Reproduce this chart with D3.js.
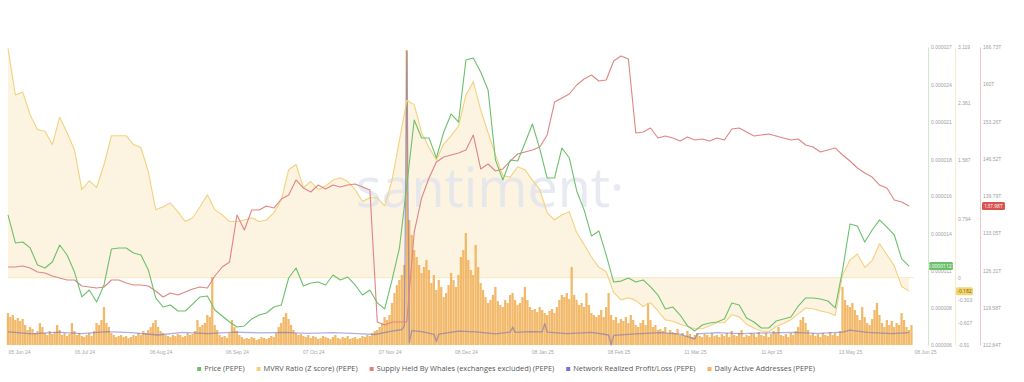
<!DOCTYPE html>
<html>
<head>
<meta charset="utf-8">
<script src="https://cdn.jsdelivr.net/npm/d3@7"></script>
<style>
  body { margin: 0; background: #fff; }
  svg { display: block; font-family: 'Open Sans', sans-serif; }
</style>
</head>
<body>
<div id="chart"></div>
<script>
// PEPE metrics (Santiment), Jun 2024 - Jun 2025

// line series are sampled every 3 days from 05 Jun 24
const priceE6 = [
    14.94, 12.93, 13.00, 12.57, 11.35, 11.13, 11.56, 12.78, 12.06, 10.84,
    9.05, 9.55, 8.69, 9.91, 12.49, 12.57, 12.57, 12.21, 12.06, 10.99,
    8.98, 8.33, 8.47, 8.04, 8.04, 8.54, 9.05, 9.12, 8.11, 7.68,
    7.25, 6.89, 6.97, 7.47, 7.75, 7.90, 8.33, 8.47, 10.41, 11.13,
    9.84, 10.05, 10.12, 9.91, 10.63, 10.27, 10.48, 9.91, 9.19, 9.55,
    8.62, 8.19, 10.27, 12.57, 17.09, 21.76, 20.47, 20.47, 19.03, 20.90,
    22.19, 21.61, 26.07, 26.21, 25.20, 23.91, 18.89, 17.45, 18.89, 18.81,
    20.11, 21.47, 19.68, 17.59, 17.59, 19.75, 19.03, 16.66, 15.30, 13.43,
    13.79, 12.06, 10.12, 10.19, 10.41, 10.12, 10.27, 9.77, 9.19, 8.19,
    8.33, 7.75, 6.97, 6.61, 7.04, 7.18, 7.25, 7.47, 8.62, 8.47,
    7.54, 7.25, 6.82, 6.82, 7.32, 7.47, 7.61, 8.40, 8.98, 8.98,
    8.90, 8.76, 8.26, 10.99, 14.29, 14.15, 13.00, 13.86, 14.58, 14.07,
    13.50, 11.78, 11.27
];

const mvrv = [
    3.10, 2.47, 2.51, 2.20, 2.00, 1.98, 1.80, 2.17, 1.96, 1.73,
    1.19, 1.31, 1.22, 1.53, 1.92, 1.92, 1.92, 1.80, 1.76, 1.43,
    0.92, 0.96, 1.01, 0.89, 0.76, 0.81, 0.96, 1.12, 0.92, 0.85,
    0.76, 0.76, 0.78, 0.81, 0.76, 0.78, 0.88, 1.05, 1.46, 1.53,
    1.22, 1.30, 1.19, 1.24, 1.32, 1.35, 1.30, 1.19, 1.03, 1.08,
    1.08, 0.97, 1.32, 1.86, 2.40, 2.34, 1.96, 1.76, 1.59, 1.81,
    1.92, 2.05, 2.47, 2.65, 2.27, 1.96, 1.66, 1.38, 1.36, 1.50,
    1.46, 1.32, 1.19, 0.88, 0.78, 0.85, 0.89, 0.61, 0.45, 0.28,
    0.14, 0.08, -0.20, -0.30, -0.27, -0.31, -0.39, -0.34, -0.45, -0.57,
    -0.59, -0.63, -0.66, -0.69, -0.69, -0.65, -0.61, -0.61, -0.50, -0.53,
    -0.63, -0.68, -0.72, -0.73, -0.66, -0.62, -0.57, -0.49, -0.41, -0.42,
    -0.45, -0.47, -0.51, 0.04, 0.24, 0.32, 0.14, 0.23, 0.46, 0.31,
    0.16, -0.12, -0.182
];

// supply held by whales, trillions of PEPE
const whales = [
    126.95, 126.95, 127.13, 126.76, 126.04, 125.86, 125.32, 124.96, 124.59, 124.59,
    123.51, 123.33, 123.15, 123.33, 124.59, 124.59, 124.05, 123.69, 123.69, 123.51,
    122.61, 121.52, 122.24, 121.88, 122.42, 122.97, 123.33, 123.15, 125.32, 126.95,
    127.85, 136.35, 133.64, 137.25, 137.25, 137.98, 137.61, 139.24, 139.97, 142.68,
    141.23, 140.51, 141.77, 141.05, 141.77, 141.41, 141.77, 141.95, 141.41, 140.87,
    117.00, 116.46, 117.00, 117.00, 117.00, 133.27, 139.42, 143.04, 145.93, 146.84,
    147.20, 147.56, 148.10, 150.82, 144.67, 145.57, 144.31, 144.67, 146.11, 147.38,
    147.74, 148.10, 148.65, 150.82, 156.78, 157.51, 158.23, 159.86, 160.94, 161.67,
    160.58, 160.76, 164.20, 165.10, 164.56, 151.18, 151.36, 152.08, 150.27, 150.64,
    150.27, 149.73, 150.45, 149.91, 150.09, 149.73, 150.27, 149.91, 151.90, 152.08,
    151.36, 150.64, 150.82, 151.00, 150.64, 150.27, 149.91, 150.09, 149.01, 148.65,
    147.74, 148.10, 148.47, 147.20, 146.11, 144.85, 143.94, 143.22, 141.77, 141.23,
    139.06, 138.70, 137.98
];

// network realized profit/loss, millions USD
const nrplDates = [
    '2024-06-05', '2024-06-15', '2024-06-25', '2024-07-05', '2024-07-15', '2024-07-25',
    '2024-08-05', '2024-08-15', '2024-08-25', '2024-09-05', '2024-09-15', '2024-09-25',
    '2024-10-05', '2024-10-15', '2024-10-25', '2024-11-01', '2024-11-08', '2024-11-12',
    '2024-11-13', '2024-11-14', '2024-11-15', '2024-11-16', '2024-11-20', '2024-11-25',
    '2024-11-26', '2024-11-27', '2024-12-05', '2024-12-12', '2024-12-20', '2024-12-26',
    '2024-12-27', '2024-12-28', '2025-01-03', '2025-01-08', '2025-01-09', '2025-01-10',
    '2025-01-18', '2025-01-28', '2025-02-04', '2025-02-05', '2025-02-06', '2025-02-15',
    '2025-02-25', '2025-03-05', '2025-03-11', '2025-03-12', '2025-03-20', '2025-03-30',
    '2025-04-10', '2025-04-20', '2025-04-30', '2025-05-10', '2025-05-13', '2025-05-20',
    '2025-05-30', '2025-06-06'
];
const nrpl = [
    5, -3, 4, -2, 6, 2,
    -8, 3, -2, 4, 1, 3,
    -1, 2, -2, -6, 8, 15,
    30, 1180, -40, 10, 6, -5,
    -35, -4, 8, 5, -3, 4,
    25, 3, 6, 5, 40, 4,
    -2, 3, -8, -50, -10, -3,
    2, -4, -25, -3, 2, -2,
    1, 3, -1, 4, 12, 3,
    -2, 2
];

// daily active addresses, thousands, one value per day from 05 Jun 24
const daa = [
    32, 28, 30, 25, 27, 24, 26, 20, 15, 18,
    16, 12, 14, 22, 18, 12, 10, 14, 11, 13,
    20, 15, 10, 12, 9, 11, 22, 14, 10, 12,
    9, 8, 10, 12, 9, 14, 22, 20, 25, 38,
    22, 18, 12, 10, 8, 9, 10, 8, 9, 7,
    8, 10, 9, 12, 10, 14, 12, 15, 18, 22,
    25, 18, 14, 12, 10, 9, 8, 10, 9, 11,
    10, 8, 9, 12, 10, 11, 14, 25, 18, 20,
    22, 30, 28, 68, 20, 15, 10, 8, 9, 7,
    12, 25, 18, 14, 10, 8, 6, 7, 6, 8,
    7, 5, 6, 8, 7, 6, 7, 9, 8, 12,
    18, 22, 28, 32, 26, 20, 15, 12, 10, 11,
    9, 8, 10, 7, 9, 8, 6, 7, 9, 8,
    7, 6, 8, 10, 7, 6, 8, 7, 9, 6,
    7, 8, 6, 7, 9, 8, 10, 9, 12, 14,
    15, 18, 22, 28, 25, 30, 42, 52, 60, 65,
    70, 80, 295, 125, 110, 95, 88, 80, 72, 78,
    85, 75, 62, 70, 55, 65, 58, 48, 52, 60,
    72, 65, 58, 70, 88, 95, 112, 85, 75, 70,
    100, 78, 62, 55, 48, 42, 45, 50, 58, 44,
    40, 38, 45, 42, 50, 52, 45, 40, 42, 48,
    58, 45, 38, 35, 36, 33, 38, 35, 32, 30,
    34, 36, 32, 38, 45, 50, 48, 52, 46, 78,
    50, 45, 40, 42, 38, 52, 40, 32, 30, 28,
    30, 35, 28, 38, 52, 30, 25, 28, 22, 26,
    24, 28, 22, 30, 25, 20, 18, 22, 25, 20,
    42, 25, 18, 20, 15, 16, 14, 18, 12, 15,
    13, 12, 16, 10, 12, 9, 14, 11, 8, 10,
    12, 9, 8, 11, 10, 8, 12, 9, 10, 8,
    11, 9, 12, 8, 14, 10, 9, 12, 15, 8,
    10, 9, 12, 11, 8, 13, 10, 9, 12, 8,
    11, 14, 12, 18, 10, 9, 11, 8, 12, 10,
    14, 18, 25, 28, 22, 15, 10, 12, 9, 11,
    8, 12, 10, 9, 13, 10, 12, 9, 14, 58,
    45, 40, 38, 42, 35, 30, 25, 38, 28, 22,
    20, 26, 35, 42, 30, 22, 18, 25, 20, 24,
    18, 22, 20, 32, 25, 18, 15, 20
];

const xTickDates = ['2024-06-05', '2024-07-06', '2024-08-06', '2024-09-06', '2024-10-07', '2024-11-07',
    '2024-12-08', '2025-01-08', '2025-02-08', '2025-03-11', '2025-04-11', '2025-05-13', '2025-06-08'];
const priceTicks = [27, 24.3, 21.6, 18.9, 16.3, 13.6, 10.9, 8.3, 5.6];
const priceTickLabels = ['0.000027', '0.000024', '0.000021', '0.000018', '0.000016', '0.000014', '0.000011', '0.000008', '0.000006'];
const mvrvTicks = [3.119, 2.361, 1.587, 0.794, 0, -0.303, -0.607, -0.91];
const whaleTicks = [166.73, 160, 153.26, 146.52, 139.79, 133.05, 126.31, 119.58, 112.84];

const legendItems = [
    { name: 'Price (PEPE)', color: '#6cc06c' },
    { name: 'MVRV Ratio (Z score) (PEPE)', color: '#f2d27e' },
    { name: 'Supply Held By Whales (exchanges excluded) (PEPE)', color: '#df7f7f' },
    { name: 'Network Realized Profit/Loss (PEPE)', color: '#6f74d6' },
    { name: 'Daily Active Addresses (PEPE)', color: '#f2b35e' }
];

const width = 1024;
const height = 382;
const plotTop = 47, plotBottom = 345, plotLeft = 8, plotRight = 914;

const parse = d3.timeParse('%Y-%m-%d');
const start = parse('2024-06-05');
const lineDates = priceE6.map((d, i) => d3.timeDay.offset(start, i * 3));
const dayDates = daa.map((d, i) => d3.timeDay.offset(start, i));

const x = d3.scaleTime().domain([start, parse('2025-06-08')]).range([plotLeft, plotRight]);
const yPrice = d3.scaleLinear().domain([5.6, 27]).range([plotBottom, plotTop]);
const yMvrv = d3.scaleLinear().domain([-0.91, 3.119]).range([plotBottom, plotTop]);
const yWhale = d3.scaleLinear().domain([112.84, 166.73]).range([plotBottom, plotTop]);
const yNrpl = d3.scaleLinear().domain([-50, 1200]).range([plotBottom, plotTop]);
const yDaa = d3.scaleLinear().domain([0, 298]).range([plotBottom, plotTop]);

const svg = d3.select('#chart')
    .append('svg')
    .attr('width', width)
    .attr('height', height);

// MVRV area against zero
svg.append('path')
    .datum(mvrv)
    .attr('d', d3.area()
        .x((d, i) => x(lineDates[i]))
        .y0(yMvrv(0))
        .y1(d => yMvrv(d)))
    .style('fill', '#fdf2de')
    .style('opacity', 0.9);

svg.append('line')
    .attr('x1', plotLeft).attr('x2', plotRight)
    .attr('y1', yMvrv(0)).attr('y2', yMvrv(0))
    .style('stroke', '#f3e2b6')
    .style('stroke-width', 0.8);

// watermark
svg.append('text')
    .attr('x', 490)
    .attr('y', 207)
    .attr('text-anchor', 'middle')
    .text('santiment·')
    .style('font-size', '54px')
    .style('fill', '#dfe3ee')
    .style('opacity', 0.75);

// daily active addresses bars
const barW = x(dayDates[1]) - x(dayDates[0]);
svg.selectAll('.daa')
    .data(daa)
    .enter()
    .append('rect')
    .attr('class', 'daa')
    .attr('x', (d, i) => x(dayDates[i]) - barW / 2)
    .attr('width', barW * 0.92)
    .attr('y', d => yDaa(d))
    .attr('height', d => yDaa(0) - yDaa(d))
    .style('fill', '#f1b15a')
    .style('opacity', 0.9);

function drawLine(values, dates, y, color, w, op) {
    svg.append('path')
        .datum(values)
        .attr('d', d3.line()
            .x((d, i) => x(dates[i]))
            .y(d => y(d)))
        .style('fill', 'none')
        .style('stroke', color)
        .style('stroke-width', w)
        .style('opacity', op)
        .style('stroke-linejoin', 'round');
}

drawLine(nrpl, nrplDates.map(parse), yNrpl, '#5e64c8', 1.3, 0.5);
drawLine(mvrv, lineDates, yMvrv, '#f2d27e', 1.1, 1);
drawLine(whales, lineDates, yWhale, '#df8585', 1.1, 1);
drawLine(priceE6, lineDates, yPrice, '#6cc06c', 1.1, 1);

// bottom axis
const xAxis = svg.append('g')
    .attr('transform', `translate(0,${plotBottom + 2})`)
    .call(d3.axisBottom(x)
        .tickValues(xTickDates.map(parse))
        .tickFormat(d3.timeFormat('%d %b %y'))
        .tickSize(0));
xAxis.select('.domain').remove();
xAxis.selectAll('text')
    .style('font-size', '5px')
    .style('fill', '#a8a8a8')
    .attr('text-anchor', (d, i) => (i === 0 || i === xTickDates.length - 1) ? 'start' : 'middle');

// right axes
function rightAxis(xPos, scale, ticks, fmt, color) {
    const g = svg.append('g')
        .attr('transform', `translate(${xPos},0)`)
        .call(d3.axisRight(scale).tickValues(ticks).tickFormat(fmt).tickSize(0).tickPadding(3));
    g.select('.domain').style('stroke', color).style('stroke-width', 1);
    g.selectAll('text').style('font-size', '5px').style('fill', '#a0a0a0');
    return g;
}

rightAxis(928, yPrice, priceTicks, (d, i) => priceTickLabels[i], '#cfe9cf');
rightAxis(955, yMvrv, mvrvTicks, d => d === 0 ? '0' : String(d), '#f7ecc8');
rightAxis(980, yWhale, whaleTicks, d => d + 'T', '#e9c9c9');

// current value badges
function badge(xPos, yPos, w, label, fill, textColor) {
    svg.append('rect')
        .attr('x', xPos).attr('y', yPos - 4)
        .attr('width', w).attr('height', 8)
        .attr('rx', 1.5)
        .style('fill', fill);
    svg.append('text')
        .attr('x', xPos + w / 2).attr('y', yPos + 1.8)
        .attr('text-anchor', 'middle')
        .text(label)
        .style('font-size', '5px')
        .style('fill', textColor);
}

const lastPrice = priceE6[priceE6.length - 1];
const lastMvrv = mvrv[mvrv.length - 1];
const lastWhale = whales[whales.length - 1];
badge(929, yPrice(lastPrice), 24, (lastPrice / 1e6).toFixed(8), '#6cc06c', '#fff');
badge(956, yMvrv(lastMvrv), 17, String(lastMvrv), '#f5d66e', '#6b5a1e');
badge(982, yWhale(lastWhale), 23, lastWhale.toFixed(2) + 'T', '#d9534f', '#fff');

// legend
const legend = svg.append('g').attr('transform', 'translate(0,369)');
let cursor = 0;
const items = legend.selectAll('.item')
    .data(legendItems)
    .enter()
    .append('g')
    .attr('class', 'item');
items.append('rect')
    .attr('width', 4).attr('height', 4)
    .attr('y', -2)
    .style('fill', d => d.color);
items.append('text')
    .attr('x', 7)
    .attr('dy', '.33em')
    .text(d => d.name)
    .style('font-size', '7.4px')
    .style('fill', '#555');
items.each(function () {
    const w = this.querySelector('text').getComputedTextLength() + 7;
    d3.select(this).attr('transform', `translate(${cursor},0)`);
    cursor += w + 12;
});
const totalW = cursor - 12;
legend.attr('transform', `translate(${506 - totalW / 2},369)`);
</script>
</body>
</html>
